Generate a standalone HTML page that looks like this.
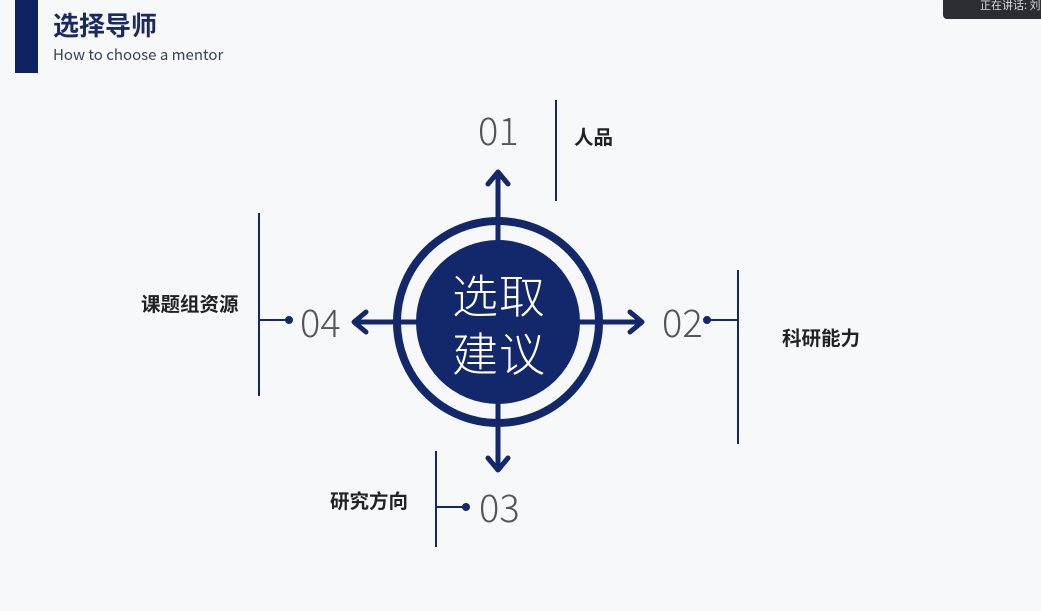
<!DOCTYPE html>
<html><head><meta charset="utf-8"><style>
html,body{margin:0;padding:0;}
body{width:1041px;height:611px;background:#f7f8fa;position:relative;overflow:hidden;font-family:"Liberation Sans","Noto Sans CJK SC",sans-serif;}
.t{position:absolute;white-space:nowrap;}
.num{font-family:"Noto Sans CJK SC","Liberation Sans",sans-serif;font-weight:300;font-size:38px;color:#555;line-height:1;}
.lab{font-family:"Noto Sans CJK SC",sans-serif;font-weight:700;font-size:19.5px;color:#222;line-height:1;}
</style></head><body>
<div style="position:absolute;left:15px;top:0;width:23px;height:73px;background:#0f2160"></div>
<div class="t" style="left:53px;top:12px;font-family:'Noto Sans CJK SC',sans-serif;font-weight:700;font-size:26px;color:#1a2a5e;line-height:1">选择导师</div>
<div class="t" style="left:53px;top:47px;font-family:'Noto Sans CJK SC','Liberation Sans',sans-serif;font-size:15px;color:#3a4256;line-height:1.1">How to choose a mentor</div>
<div style="position:absolute;left:943px;top:0;width:100px;height:19px;background:#2b2d33;border-bottom-left-radius:4px"></div>
<div class="t" style="left:980px;top:-3px;font-family:'Noto Sans CJK SC',sans-serif;font-size:11px;color:#ddd">正在讲话: 刘</div>
<svg width="1041" height="611" style="position:absolute;left:0;top:0">
<g stroke="#13286b" fill="none">
<circle cx="498" cy="322" r="101" stroke-width="8"/>
<line x1="498" y1="172" x2="498" y2="470" stroke-width="5"/>
<line x1="354" y1="322" x2="642" y2="322" stroke-width="5"/>
<g stroke-width="5" stroke-linecap="round" stroke-linejoin="round">
<polyline points="488,184 498,172 508,184"/>
<polyline points="488,458 498,470 508,458"/>
<polyline points="366,312 354,322 366,332"/>
<polyline points="630,312 642,322 630,332"/>
</g>
</g>
<circle cx="498" cy="322" r="82" fill="#13286b"/>
<g stroke="#13286b" stroke-width="2" fill="#13286b">
<line x1="556" y1="100" x2="556" y2="201"/>
<line x1="738" y1="270" x2="738" y2="444"/>
<line x1="707" y1="320" x2="738" y2="320"/>
<circle cx="707" cy="320" r="3"/>
<line x1="259" y1="213" x2="259" y2="396"/>
<line x1="259" y1="320" x2="289" y2="320"/>
<circle cx="289" cy="320" r="3"/>
<line x1="436" y1="451" x2="436" y2="547"/>
<line x1="436" y1="507" x2="466" y2="507"/>
<circle cx="466" cy="507" r="3"/>
</g>
</svg>
<div class="t" style="left:452px;top:265px;font-family:'Noto Sans CJK SC',sans-serif;font-weight:300;font-size:46px;color:#fff;line-height:58px;letter-spacing:1px">选取<br>建议</div>
<div class="t num" style="left:478px;top:110px">01</div>
<div class="t num" style="left:662px;top:302px">02</div>
<div class="t num" style="left:479px;top:487px">03</div>
<div class="t num" style="left:300px;top:302px">04</div>
<div class="t lab" style="left:574px;top:126px">人品</div>
<div class="t lab" style="left:782px;top:327px">科研能力</div>
<div class="t lab" style="left:330px;top:490px">研究方向</div>
<div class="t lab" style="left:141px;top:293px">课题组资源</div>
</body></html>
